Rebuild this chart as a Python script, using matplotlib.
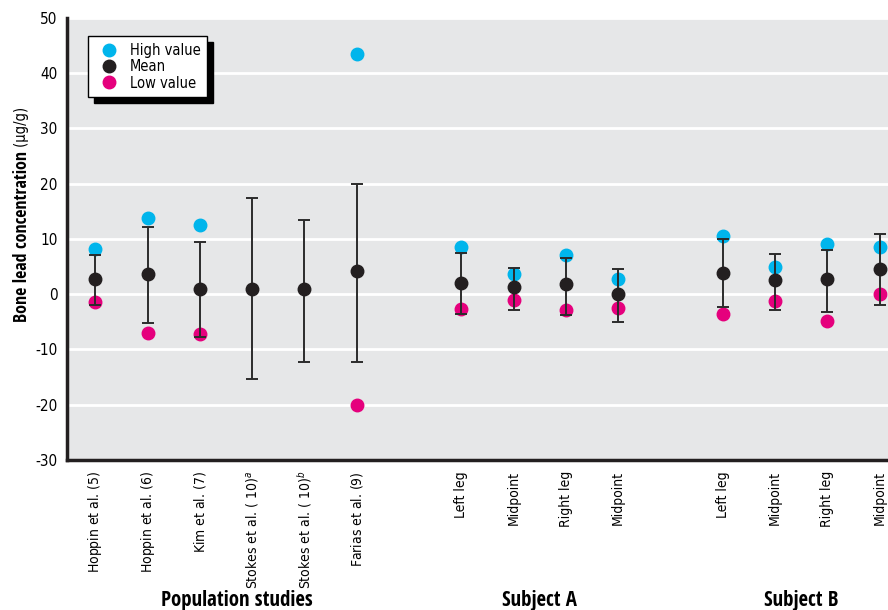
"""
Bone lead concentration - population studies vs. two subjects.
"""

import matplotlib
matplotlib.use("Agg")
import matplotlib.pyplot as plt
import matplotlib.transforms as mtransforms

# ── Fonts ──────────────────────────────────────────────────────────────────
plt.rcParams["font.family"] = ["DejaVu Sans"]
plt.rcParams["font.stretch"] = "condensed"
plt.rcParams["axes.unicode_minus"] = False
plt.rcParams["mathtext.fontset"] = "custom"
plt.rcParams["mathtext.rm"] = "DejaVu Sans:stretch=condensed"
plt.rcParams["mathtext.it"] = "DejaVu Sans:style=oblique:stretch=condensed"
plt.rcParams["mathtext.bf"] = "DejaVu Sans:weight=bold:stretch=condensed"
BOLD_FAMILY = ["Open Sans Condensed", "DejaVu Sans"]

# ── Data ───────────────────────────────────────────────────────────────────
labels = [
    r"Hoppin et al. ($\it{5}$)",
    r"Hoppin et al. ($\it{6}$)",
    r"Kim et al. ($\it{7}$)",
    r"Stokes et al. ( $\it{10}$)$^{\it{a}}$",
    r"Stokes et al. ( $\it{10}$)$^{\it{b}}$",
    r"Farias et al. ($\it{9}$)",
    "Left leg", "Midpoint", "Right leg", "Midpoint",
    "Left leg", "Midpoint", "Right leg", "Midpoint",
]
positions = [0, 1, 2, 3, 4, 5, 7, 8, 9, 10, 12, 13, 14, 15]

means = [2.8, 3.7, 1.0, 1.0, 0.9, 4.2,
         2.1, 1.3, 1.8, 0.0,
         3.9, 2.5, 2.7, 4.5]
err_top = [7.1, 12.2, 9.4, 17.4, 13.4, 19.9,
           7.4, 4.8, 6.6, 4.5,
           10.0, 7.3, 8.0, 10.9]
err_bottom = [-2.0, -5.2, -7.8, -15.4, -12.3, -12.2,
              -3.6, -2.9, -3.8, -5.1,
              -2.4, -2.9, -3.3, -1.9]

# high / low values (Stokes studies have none)
high_pos = [0, 1, 2, 5, 7, 8, 9, 10, 12, 13, 14, 15]
high_vals = [8.1, 13.8, 12.5, 43.5, 8.6, 3.6, 7.1, 2.8, 10.5, 4.9, 9.0, 8.6]
low_pos = [0, 1, 2, 5, 7, 8, 9, 10, 12, 13, 14, 15]
low_vals = [-1.4, -7.0, -7.2, -20.0, -2.7, -1.0, -2.8, -2.5, -3.5, -1.3, -4.8, 0.0]

groups = ["Population studies", "Subject A", "Subject B"]
group_centers = [2.7, 8.5, 13.5]

# ── Colours ────────────────────────────────────────────────────────────────
CYAN = "#00b5ec"
MAGENTA = "#e5007d"
BLACK = "#231f20"
BG = "#e6e7e8"


def main():
    fig = plt.figure(figsize=(8.88, 6.10), dpi=100)
    ax = fig.add_axes([0.0755, 0.246, 0.9245, 0.7245])
    ax.set_facecolor(BG)

    ms = 9
    ax.plot(high_pos, high_vals, "o", color=CYAN, ms=ms, ls="none",
            label="High value", zorder=2)
    ax.plot(positions, means, "o", color=BLACK, ms=ms, ls="none",
            label="Mean", zorder=4)
    ax.plot(low_pos, low_vals, "o", color=MAGENTA, ms=ms, ls="none",
            label="Low value", zorder=2)

    # error bars from the mean to the top / bottom values
    lower = [m - b for m, b in zip(means, err_bottom)]
    upper = [t - m for m, t in zip(means, err_top)]
    ax.errorbar(positions, means, yerr=[lower, upper], fmt="none",
                ecolor="#2b2b2b", elinewidth=1.4, capsize=4, capthick=1.4,
                zorder=3)

    # axes
    ax.set_ylim(-30, 50)
    ax.set_yticks(range(-30, 51, 10))
    ax.set_xlim(-0.54, 15.16)
    ax.set_xticks(positions)
    ax.set_xticklabels(labels, rotation=90, fontsize=10)
    ax.tick_params(axis="y", length=0, pad=7, labelsize=11)
    ax.tick_params(axis="x", length=0, pad=8)
    ax.yaxis.grid(True, color="white", linewidth=2)
    ax.set_axisbelow(True)

    for side in ("top", "right"):
        ax.spines[side].set_visible(False)
    for side in ("left", "bottom"):
        ax.spines[side].set_linewidth(2.5)
        ax.spines[side].set_color(BLACK)

    # y label: bold part + plain unit
    t1 = ax.text(-0.055, 0.312, "Bone lead concentration", transform=ax.transAxes,
                 rotation=90, fontsize=13, fontweight="bold", family=BOLD_FAMILY,
                 ha="center", va="bottom")
    ax.annotate(" (μg/g)", xy=(0.5, 1), xycoords=t1, rotation=90,
                fontsize=10.5, ha="center", va="bottom")

    # group labels
    trans = mtransforms.blended_transform_factory(ax.transData, ax.transAxes)
    for name, cx in zip(groups, group_centers):
        ax.text(cx, -0.317, name, transform=trans, ha="center", va="center",
                fontsize=15, fontweight="bold", family=BOLD_FAMILY)

    # legend with hard drop shadow
    leg = ax.legend(loc="upper left", bbox_to_anchor=(0.0256, 0.959),
                    fontsize=10.5, frameon=True, fancybox=False,
                    shadow={"color": "black", "alpha": 1, "ox": 4, "oy": -4},
                    handletextpad=0.4, borderpad=0.45, labelspacing=0.1,
                    handlelength=2.0, borderaxespad=0.0)
    leg.get_frame().set_edgecolor("black")
    leg.get_frame().set_linewidth(1.0)

    fig.savefig("out.png", dpi=100)
    plt.close(fig)


if __name__ == "__main__":
    main()
